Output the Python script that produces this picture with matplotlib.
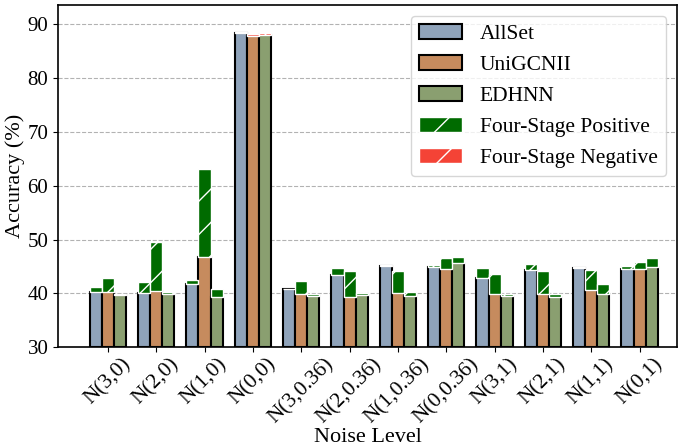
import numpy as np
import matplotlib
matplotlib.use('Agg')
import matplotlib.pyplot as plt
from matplotlib.patches import Patch

plt.rcParams['font.family'] = ['Liberation Serif', 'DejaVu Serif']
plt.rcParams['hatch.linewidth'] = 1.0

# data to plot
noise_levels = ['N(3,0)', 'N(2,0)', 'N(1,0)', 'N(0,0)', 'N(3,0.36)', 'N(2,0.36)',
                'N(1,0.36)', 'N(0,0.36)', 'N(3,1)', 'N(2,1)', 'N(1,1)', 'N(0,1)']
methods = ['AllSet', 'UniGCNII', 'EDHNN']

allset = [40.2, 40.1, 41.8, 88.5, 40.9, 43.5, 45.2, 44.9, 42.9, 44.4, 44.9, 44.5]
allset_fs = [41.1, 42.2, 42.5, 88.3, 40.8, 44.7, 45.0, 45.2, 44.8, 45.5, 44.7, 45.1]
unigcnii = [40.2, 40.4, 46.7, 88.2, 39.8, 39.4, 40.1, 44.5, 39.9, 39.9, 40.7, 44.6]
unigcnii_fs = [42.8, 49.6, 63.2, 87.8, 42.3, 44.2, 44.2, 46.5, 43.6, 44.2, 44.3, 45.8]
edhnn = [39.8, 39.8, 39.4, 88.4, 39.5, 39.7, 39.5, 45.7, 39.6, 39.4, 39.9, 44.9]
edhnn_fs = [39.7, 40.2, 40.9, 88.1, 39.9, 40.1, 40.3, 46.7, 39.9, 39.9, 41.7, 46.5]

base_colors = ['#8FA3BA', '#C68B5E', '#8A9F70']
pos_color = '#006B00'
neg_color = '#F44336'

fig, ax = plt.subplots(figsize=(6.83, 4.48), dpi=100)
fig.subplots_adjust(left=0.085, right=0.991, bottom=0.225, top=0.989)

index = np.arange(len(noise_levels))
bar_width = 0.25

for i, (base, fs) in enumerate([(allset, allset_fs), (unigcnii, unigcnii_fs), (edhnn, edhnn_fs)]):
    base = np.array(base)
    fs = np.array(fs)
    low = np.minimum(base, fs)
    diff = fs - base
    x = index + (i - 1) * bar_width
    ax.bar(x, low - 30, bar_width, bottom=30, color=base_colors[i],
           edgecolor='black', linewidth=1.5, zorder=2)
    colors = [pos_color if d >= 0 else neg_color for d in diff]
    ax.bar(x, np.abs(diff), bar_width, bottom=low, color=colors,
           edgecolor='white', hatch='/', linewidth=1.0, zorder=3)

ax.set_xlim(-1.03, 11.77)
ax.set_ylim(30, 93.6)
ax.set_yticks(np.arange(30, 91, 10))
ax.set_xticks(index)
ax.set_xticklabels(noise_levels, rotation=45)
ax.tick_params(axis='y', labelsize=15)
ax.tick_params(axis='x', labelsize=15.5, pad=2)
ax.yaxis.grid(True, linestyle='--', color='grey', alpha=0.6)
ax.set_axisbelow(True)
for s in ax.spines.values():
    s.set_linewidth(1.2)

ax.set_xlabel('Noise Level', fontsize=16)
ax.xaxis.set_label_coords(0.5, -0.235)
ax.set_ylabel('Accuracy (%)', fontsize=16, labelpad=2)

handles = [Patch(facecolor=c, edgecolor='black', linewidth=1.5, label=m)
           for c, m in zip(base_colors, methods)]
handles.append(Patch(facecolor=pos_color, edgecolor='white', hatch='/', label='Four-Stage Positive'))
handles.append(Patch(facecolor=neg_color, edgecolor='white', hatch='/', label='Four-Stage Negative'))
ax.legend(handles=handles, loc='upper right', fontsize=15.5)

plt.savefig('out.png')
